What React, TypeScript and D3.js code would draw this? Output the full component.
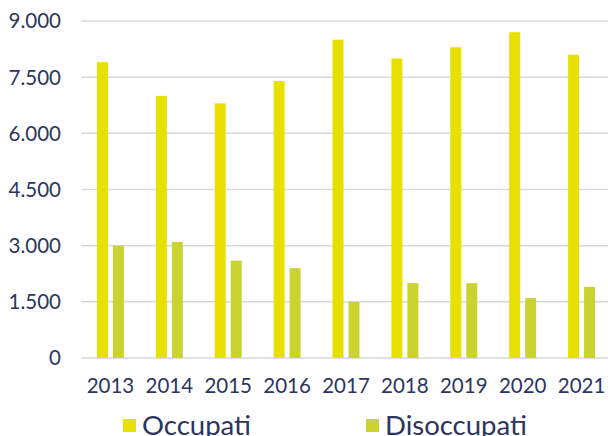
import React from "react";
import * as d3 from "d3";

// Chart data
const years = ["2013", "2014", "2015", "2016", "2017", "2018", "2019", "2020", "2021"];
const occupati = [7900, 7000, 6800, 7400, 8500, 8000, 8300, 8700, 8100];
const disoccupati = [3000, 3100, 2600, 2400, 1500, 2000, 2000, 1600, 1900];
const yTicks = [0, 1500, 3000, 4500, 6000, 7500, 9000];
const seriesNames = ["Occupati", "Disoccupati"];
const seriesColors = ["#E8E000", "#C9D430"];

const width = 608,
  height = 436;
const textColor = "#2C3560";
const font = "Lato, 'Open Sans', sans-serif";

const fmt = (v: number) => d3.format(",")(v).replace(/,/g, ".");

const App: React.FC = () => {
  // scales
  const x0 = d3
    .scaleBand()
    .domain(years)
    .range([81, 611])
    .paddingInner(32 / 59)
    .paddingOuter(16 / 59);

  const x1 = d3
    .scaleBand()
    .domain(seriesNames)
    .range([0, x0.bandwidth()])
    .paddingInner(0.3125);

  const y = d3.scaleLinear().domain([0, 9000]).range([358, 21]);

  const series = [occupati, disoccupati];

  return (
    <svg
      width={width}
      height={height}
      style={{ position: "absolute", left: 0, top: 0, background: "#fff" }}
      fontFamily={font}
    >
      {/* gridlines */}
      {yTicks.map((t) => (
        <line
          key={"g" + t}
          x1={81}
          x2={611}
          y1={y(t)}
          y2={y(t)}
          stroke="#D9D9D9"
          strokeWidth={1.5}
        />
      ))}

      {/* y labels */}
      {yTicks.map((t) => (
        <text
          key={"yl" + t}
          x={61}
          y={y(t)}
          dy="0.36em"
          textAnchor="end"
          fontSize={20.5}
          fill={textColor}
        >
          {fmt(t)}
        </text>
      ))}

      {/* bars */}
      {series.map((vals, si) =>
        vals.map((v, i) => (
          <rect
            key={seriesNames[si] + i}
            x={x0(years[i])! + x1(seriesNames[si])!}
            y={y(v)}
            width={x1.bandwidth()}
            height={y(0) - y(v)}
            fill={seriesColors[si]}
          />
        )),
      )}

      {/* x labels */}
      {years.map((yr) => (
        <text
          key={"xl" + yr}
          x={x0(yr)! + x0.bandwidth() / 2}
          y={393}
          textAnchor="middle"
          fontSize={20.5}
          fill={textColor}
        >
          {yr}
        </text>
      ))}

      {/* legend */}
      {[123, 366].map((lx, si) => (
        <g key={"lg" + si}>
          <rect x={lx} y={419} width={13} height={13} fill={seriesColors[si]} />
          <text x={lx + 19} y={435} fontSize={27.5} fill={textColor}>
            {seriesNames[si]}
          </text>
        </g>
      ))}
    </svg>
  );
};

export default App;
